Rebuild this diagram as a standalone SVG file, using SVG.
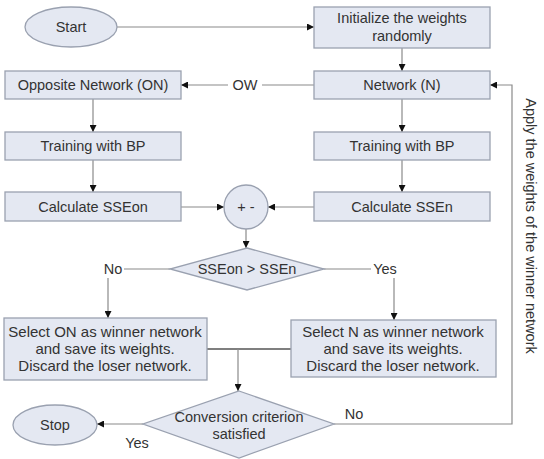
<svg xmlns="http://www.w3.org/2000/svg" width="544" height="459" viewBox="0 0 544 459">
<defs>
<marker id="ah" viewBox="0 0 10 10" refX="10" refY="5" markerWidth="7" markerHeight="7" orient="auto" markerUnits="userSpaceOnUse">
<path d="M0,0 L10,5 L0,10 Z" fill="#111"/>
</marker>
</defs>
<style>
.n{fill:#e4e8f2;stroke:#9aa1b0;stroke-width:1.3}
.t{font-family:"Liberation Sans",Arial,sans-serif;font-size:14.5px;fill:#333;text-anchor:middle;dominant-baseline:central}
.s{font-size:15px}
.c{fill:none;stroke:#8a8a8a;stroke-width:1.2}
.d{fill:none;stroke:#555;stroke-width:1.4}
</style>
<rect width="544" height="459" fill="#fff"/>
<g id="connectors">
<path class="c" d="M117,27 H314" marker-end="url(#ah)"/>
<path class="c" d="M402,48 V71" marker-end="url(#ah)"/>
<path class="c" d="M314,85 H262 M228,85 H181" marker-end="url(#ah)"/>
<text class="t" x="245" y="85">OW</text>
<path class="c" d="M402,99 V132" marker-end="url(#ah)"/>
<path class="c" d="M93,99 V132" marker-end="url(#ah)"/>
<path class="c" d="M402,160 V192" marker-end="url(#ah)"/>
<path class="c" d="M93,160 V192" marker-end="url(#ah)"/>
<path class="c" d="M181,207 H224" marker-end="url(#ah)"/>
<path class="c" d="M314,207 H268" marker-end="url(#ah)"/>
<path class="c" d="M246,229 V248" marker-end="url(#ah)"/>
<path class="c" d="M170,269 H124"/>
<text class="t" x="113" y="269">No</text>
<path class="c" d="M108,278 V318" marker-end="url(#ah)"/>
<path class="c" d="M324,269 H371"/>
<text class="t" x="385" y="269">Yes</text>
<path class="c" d="M394,278 V320" marker-end="url(#ah)"/>
<path class="d" d="M207,349 H291"/>
<path class="c" d="M238,349 V391" marker-end="url(#ah)"/>
<path class="c" d="M143,424 H97" marker-end="url(#ah)"/>
<text class="t" x="137" y="443">Yes</text>
<path class="c" d="M334,424 H512 V85 H490" marker-end="url(#ah)"/>
<text class="t" x="354" y="414">No</text>
<text class="t" transform="translate(531,226) rotate(90)">Apply the weights of the winner network</text>
</g>
<g id="start"><ellipse class="n" cx="71" cy="27" rx="46" ry="20"/><text class="t" x="71" y="27">Start</text></g>
<g id="init"><rect class="n" x="314" y="7" width="176" height="41"/><text class="t" x="402" y="18">Initialize the weights</text><text class="t" x="402" y="36">randomly</text></g>
<g id="network"><rect class="n" x="314" y="71" width="176" height="28"/><text class="t" x="402" y="85">Network (N)</text></g>
<g id="opposite"><rect class="n" x="5" y="71" width="176" height="28"/><text class="t" x="93" y="85">Opposite Network (ON)</text></g>
<g id="train-n"><rect class="n" x="314" y="132" width="176" height="28"/><text class="t" x="402" y="146">Training with BP</text></g>
<g id="train-on"><rect class="n" x="5" y="132" width="176" height="28"/><text class="t" x="93" y="146">Training with BP</text></g>
<g id="sse-n"><rect class="n" x="314" y="192" width="176" height="29"/><text class="t" x="402" y="207">Calculate SSEn</text></g>
<g id="sse-on"><rect class="n" x="5" y="192" width="176" height="29"/><text class="t" x="93" y="207">Calculate SSEon</text></g>
<g id="diff"><circle class="n" cx="246" cy="207" r="22"/><text class="t" x="246" y="207">+  -</text></g>
<g id="compare"><polygon class="n" points="247,248 324,269 247,290 170,269"/><text class="t" x="247" y="269">SSEon &gt; SSEn</text></g>
<g id="select-on"><rect class="n" x="4" y="318" width="203" height="62"/><text class="t s" x="105" y="331">Select ON as winner network</text><text class="t s" x="105" y="348">and save its weights.</text><text class="t s" x="105" y="365">Discard the loser network.</text></g>
<g id="select-n"><rect class="n" x="291" y="320" width="205" height="57"/><text class="t s" x="393" y="331">Select N as winner network</text><text class="t s" x="393" y="348">and save its weights.</text><text class="t s" x="393" y="365">Discard the loser network.</text></g>
<g id="converge"><polygon class="n" points="239,391 334,424 239,458 143,424"/><text class="t" x="239" y="417">Conversion criterion</text><text class="t" x="239" y="434">satisfied</text></g>
<g id="stop"><ellipse class="n" cx="55" cy="425" rx="42" ry="20"/><text class="t" x="55" y="425">Stop</text></g>
</svg>
